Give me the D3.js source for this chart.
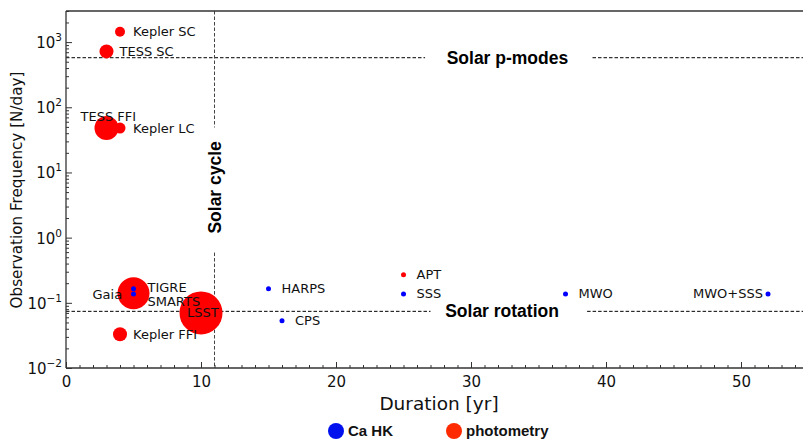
<!DOCTYPE html>
<html>
<head>
<meta charset="utf-8">
<script src="https://cdn.jsdelivr.net/npm/d3@7"></script>
<style>
  body { margin: 0; background: #fff; }
  svg text { font-family: "DejaVu Sans", sans-serif; }
  .bold { font-family: "Liberation Sans", Arial, sans-serif !important; font-weight: bold; }
</style>
</head>
<body>
<svg class="chart" width="803" height="440"></svg>
<script>

// survey name, duration [yr], observation frequency [N/day], kind, marker size
const names     = ['Kepler SC', 'TESS SC', 'TESS FFI', 'Kepler LC', 'Kepler FFI', 'Gaia', 'LSST', 'APT',
                   'TIGRE', 'SMARTS', 'HARPS', 'CPS', 'SSS', 'MWO', 'MWO+SSS'];
const durations = [4, 3, 3, 4, 4, 5, 10, 25, 5, 5, 15, 16, 25, 37, 52];
const frequency = [1440, 720, 48, 48, 0.033, 0.14, 0.07, 0.27, 0.165, 0.137, 0.165, 0.053, 0.137, 0.137, 0.137];
const kinds     = ['phot', 'phot', 'phot', 'phot', 'phot', 'phot', 'phot', 'phot',
                   'cahk', 'cahk', 'cahk', 'cahk', 'cahk', 'cahk', 'cahk'];
const sizes     = [5, 7, 12, 5.5, 7, 16, 21.5, 2.5, 2.5, 2.5, 2.5, 2.5, 2.5, 2.5, 2.5];

const xTicks = [0, 10, 20, 30, 40, 50];
const yTicks = [-2, -1, 0, 1, 2, 3];

const solarPmodes = 576;    // per day
const solarRotation = 0.074;
const solarCycle = 11;      // yr

const legendNames = ['Ca HK', 'photometry'];

var data = names.map(function(n, i) {
  return { name: n, x: durations[i], y: frequency[i], kind: kinds[i], r: sizes[i] };
});

var svg = d3.select('svg.chart');
var mLeft = 66, mTop = 11, mBottom = 368;

var x = d3.scaleLinear().domain([0, 55]).range([mLeft, mLeft + 55 * 13.5]);
var y = d3.scaleLog().domain([0.01, 3000]).range([mBottom, mTop]);

// dashed reference lines
var ref = svg.append('g').attr('stroke', '#000').attr('stroke-width', 1).attr('stroke-dasharray', '3.5,2');
ref.append('line').attr('x1', x(0)).attr('x2', x(26.6)).attr('y1', y(solarPmodes)).attr('y2', y(solarPmodes));
ref.append('line').attr('x1', x(39)).attr('x2', x(55)).attr('y1', y(solarPmodes)).attr('y2', y(solarPmodes));
ref.append('line').attr('x1', x(0)).attr('x2', x(27)).attr('y1', y(solarRotation)).attr('y2', y(solarRotation));
ref.append('line').attr('x1', x(38.6)).attr('x2', x(55)).attr('y1', y(solarRotation)).attr('y2', y(solarRotation));
ref.append('line').attr('x1', x(solarCycle)).attr('x2', x(solarCycle)).attr('y1', y(3000)).attr('y2', y(49)).attr('stroke', '#444');
ref.append('line').attr('x1', x(solarCycle)).attr('x2', x(solarCycle)).attr('y1', y(0.59)).attr('y2', y(0.01)).attr('stroke', '#444');

svg.append('text').attr('class', 'bold').attr('x', x(32.7)).attr('y', y(solarPmodes)).attr('dy', '0.35em')
  .attr('text-anchor', 'middle').attr('font-size', 17.5).text('Solar p-modes');
svg.append('text').attr('class', 'bold').attr('x', x(32.3)).attr('y', y(solarRotation)).attr('dy', '0.35em')
  .attr('text-anchor', 'middle').attr('font-size', 17.5).text('Solar rotation');
svg.append('text').attr('class', 'bold')
  .attr('transform', 'translate(' + x(solarCycle) + ',' + y(5.9) + ') rotate(-90)')
  .attr('dy', '0.35em').attr('text-anchor', 'middle').attr('font-size', 17.5).text('Solar cycle');

// markers: photometry first, Ca HK on top
var color = { phot: '#ff0000', cahk: '#0000ff' };
var sorted = data.filter(function(d) { return d.kind == 'phot'; })
  .concat(data.filter(function(d) { return d.kind == 'cahk'; }));

svg.append('g').selectAll('circle').data(sorted).enter().append('circle')
  .attr('cx', function(d) { return x(d.x); })
  .attr('cy', function(d) { return y(d.y); })
  .attr('r', function(d) { return d.r; })
  .attr('fill', function(d) { return color[d.kind]; });

// labels, default to the right of the point
var labelShift = {
  'TESS FFI': [-26, -12, 'start'],
  'Gaia': [-41, 1, 'start'],
  'TIGRE': [14, -1, 'start'],
  'SMARTS': [14, 8, 'start'],
  'LSST': [-14, 0, 'start'],
  'MWO+SSS': [-5, 0, 'end']
};
svg.append('g').selectAll('text').data(data).enter().append('text')
  .attr('x', function(d) { var s = labelShift[d.name]; return x(d.x) + (s ? s[0] : 13); })
  .attr('y', function(d) { var s = labelShift[d.name]; return y(d.y) + (s ? s[1] : 0); })
  .attr('dy', '0.35em')
  .attr('text-anchor', function(d) { var s = labelShift[d.name]; return s ? s[2] : 'start'; })
  .attr('font-size', 13)
  .attr('fill', '#111')
  .text(function(d) { return d.name; });

// axes frame
var frame = svg.append('g').attr('stroke', '#333').attr('stroke-width', 1.3).attr('fill', 'none');
frame.append('line').attr('x1', mLeft).attr('x2', 803).attr('y1', mTop).attr('y2', mTop);
frame.append('line').attr('x1', mLeft).attr('x2', 803).attr('y1', mBottom).attr('y2', mBottom);
frame.append('line').attr('x1', mLeft).attr('x2', mLeft).attr('y1', mTop).attr('y2', mBottom);

// x axis, inward ticks
var xAxis = svg.append('g').attr('transform', 'translate(0,' + mBottom + ')');
xAxis.call(d3.axisBottom(x).tickValues(d3.range(0, 56, 1)).tickSize(-3).tickFormat(''));
var xMajor = svg.append('g').attr('transform', 'translate(0,' + mBottom + ')')
  .call(d3.axisBottom(x).tickValues(xTicks).tickSize(-6).tickPadding(8).tickFormat(d3.format('d')));
svg.selectAll('.domain').remove();
svg.selectAll('.tick line').attr('stroke', '#333');
xMajor.selectAll('text').attr('font-size', 15).attr('fill', '#111').attr('font-family', '"DejaVu Sans", sans-serif');

// y axis, log ticks
var yMinor = [];
for (var e = -2; e < 4; e++) for (var m = 2; m < 10; m++) {
  var v = m * Math.pow(10, e);
  if (v <= 3000) yMinor.push(v);
}
var yAxis = svg.append('g').attr('transform', 'translate(' + mLeft + ',0)');
yAxis.call(d3.axisLeft(y).tickValues(yMinor).tickSize(-3).tickFormat(''));
yAxis.select('.domain').remove();
var yMajor = svg.append('g').attr('transform', 'translate(' + mLeft + ',0)')
  .call(d3.axisLeft(y).tickValues(yTicks.map(function(p) { return Math.pow(10, p); })).tickSize(-6).tickFormat(''));
yMajor.select('.domain').remove();
yMajor.selectAll('.tick line').attr('stroke', '#333');
yAxis.selectAll('.tick line').attr('stroke', '#333');

var yl = svg.append('g').selectAll('text').data(yTicks).enter().append('text')
  .attr('x', mLeft - 4).attr('y', function(p) { return y(Math.pow(10, p)) + 6; })
  .attr('text-anchor', 'end').attr('font-size', 15).attr('fill', '#111');
yl.append('tspan').text('10');
yl.append('tspan').attr('dy', -7).attr('font-size', 10.5).text(function(p) { return p < 0 ? '\u2212' + (-p) : p; });

// axis titles
svg.append('text').attr('x', 439).attr('y', 410).attr('text-anchor', 'middle')
  .attr('font-size', 18.5).attr('fill', '#111').text('Duration [yr]');
svg.append('text').attr('transform', 'translate(22,190) rotate(-90)').attr('text-anchor', 'middle')
  .attr('font-size', 15.2).attr('fill', '#111').text('Observation Frequency [N/day]');

// legend
var legendColors = ['#0011ee', '#ff2a00'];
var lg = svg.append('g').selectAll('g').data(legendNames).enter().append('g')
  .attr('transform', function(d, i) { return 'translate(' + (336 + i * 118) + ',431)'; });
lg.append('circle').attr('r', 8).attr('fill', function(d, i) { return legendColors[i]; });
lg.append('text').attr('class', 'bold').attr('x', 12).attr('dy', '0.35em').attr('font-size', 15)
  .attr('fill', '#111').text(function(d) { return d; });

</script>
</body>
</html>
